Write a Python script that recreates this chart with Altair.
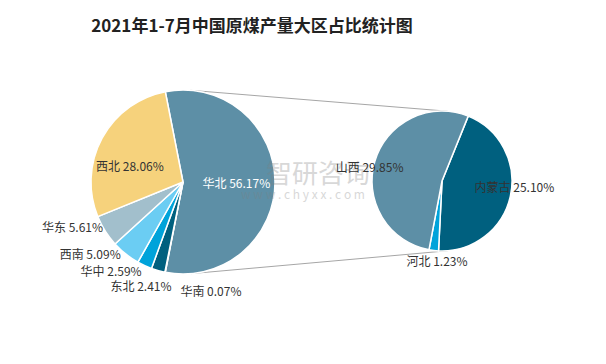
import math
import altair as alt
import pandas as pd

# ---------------- data ----------------
left_regions = ["华北", "华南", "东北", "华中", "西南", "华东", "西北"]
left_values = [56.17, 0.07, 2.41, 2.59, 5.09, 5.61, 28.06]
right_regions = ["内蒙古", "河北", "山西"]
right_values = [25.10, 1.23, 29.85]
title_text = "2021年1-7月中国原煤产量大区占比统计图"

# ---------------- layout / style ----------------
W, H, M = 590, 348, 8
FONT = "Noto Sans CJK SC"
colors = {
    "华北": "#5D8FA6", "华南": "#3E7390", "东北": "#00607F", "华中": "#00A3DA",
    "西南": "#6BCDF3", "华东": "#A2BFCC", "西北": "#F6D27C",
    "内蒙古": "#00607F", "河北": "#00A3DA", "山西": "#5D8FA6",
}
L_C, L_R = (183 - M, 182 - M), 92
R_C, R_R = (442 - M, 181 - M), 70
L_START = -math.radians(11.1)
R_START = math.radians(22.0)
# label placement (angle in degrees clockwise from top, radius factor)
left_lab = {"华北": (92, 0.58), "华南": (165.7, 1.23), "东北": (201.8, 1.23),
            "华中": (218.7, 1.25), "西南": (232, 1.28), "华东": (247.5, 1.30),
            "西北": (286, 0.60)}
right_lab = {"内蒙古": (95.5, 1.04), "河北": (183.5, 1.16), "山西": (280, 1.05)}


def pie_df(names, vals):
    return pd.DataFrame({"region": names, "value": vals, "ord": list(range(len(names)))})


def label_df(names, vals, center, r, lab, white=()):
    rows = []
    for n, v in zip(names, vals):
        a, f = lab[n]
        t = math.radians(a)
        rows.append({
            "x": center[0] + f * r * math.sin(t),
            "y": center[1] - f * r * math.cos(t),
            "text": f"{n} {v:.2f}%",
            "c": "white" if n in white else "#333333",
        })
    return pd.DataFrame(rows)


dom = list(colors.keys())
rng = [colors[k] for k in dom]


def pie(df, center, r, start):
    return alt.Chart(df).mark_arc(radius=r, stroke="white", strokeWidth=1.5).encode(
        theta=alt.Theta("value:Q", stack=True,
                        scale=alt.Scale(range=[start + 2 * math.pi, start + 4 * math.pi])),
        order=alt.Order("ord:Q"),
        color=alt.Color("region:N", scale=alt.Scale(domain=dom, range=rng), legend=None),
        x=alt.value(center[0]),
        y=alt.value(center[1]),
    )


# external tangent lines between the two pies
dx, dy = R_C[0] - L_C[0], R_C[1] - L_C[1]
d = math.hypot(dx, dy)
ux, uy = dx / d, dy / d
k = (L_R - R_R) / d
s = math.sqrt(1 - k * k)
lines = []
for px, py in [(-uy, ux), (uy, -ux)]:
    nx, ny = k * ux + s * px, k * uy + s * py
    lines.append({"x": L_C[0] + L_R * nx, "y": L_C[1] + L_R * ny,
                  "x2": R_C[0] + R_R * nx, "y2": R_C[1] + R_R * ny})
lines_df = pd.DataFrame(lines)

XS = alt.X("x:Q", scale=None, axis=None)
YS = alt.Y("y:Q", scale=None, axis=None)

rules = alt.Chart(lines_df).mark_rule(color="#A6A6A6", strokeWidth=1).encode(
    x=XS, y=YS, x2="x2:Q", y2="y2:Q")

left_pie = pie(pie_df(left_regions, left_values), L_C, L_R, L_START)
right_pie = pie(pie_df(right_regions, right_values), R_C, R_R, R_START)

labels = pd.concat([
    label_df(left_regions, left_values, L_C, L_R, left_lab, white=("华北",)),
    label_df(right_regions, right_values, R_C, R_R, right_lab),
])
label_layer = alt.Chart(labels).mark_text(font=FONT, fontSize=12, baseline="middle").encode(
    x=XS, y=YS, text="text:N", color=alt.Color("c:N", scale=None))

wm_df = pd.DataFrame({"x": [318 - M, 303 - M], "y": [175 - M, 195 - M],
                      "text": ["智研咨询", "w w w . c h y x x . c o m"], "s": [26, 12]})
watermark = alt.Chart(wm_df).mark_text(font=FONT, color="#808080", opacity=0.3,
                                       baseline="middle").encode(
    x=XS, y=YS, text="text:N", size=alt.Size("s:Q", scale=None, legend=None))

title_df = pd.DataFrame({"x": [252 - M], "y": [27 - M], "text": [title_text]})
title = alt.Chart(title_df).mark_text(font=FONT, fontSize=17, fontWeight="bold",
                                      color="#222222", baseline="middle").encode(
    x=XS, y=YS, text="text:N")

chart = alt.layer(rules, left_pie, right_pie, watermark, label_layer, title).resolve_scale(
    theta="independent"
).properties(
    width=W, height=H, padding=0,
    autosize=alt.AutoSizeParams(type="fit", contains="padding"),
    background="white",
).configure_view(stroke=None)

chart.save("out.html", embed_options={"renderer": "svg", "actions": False})
